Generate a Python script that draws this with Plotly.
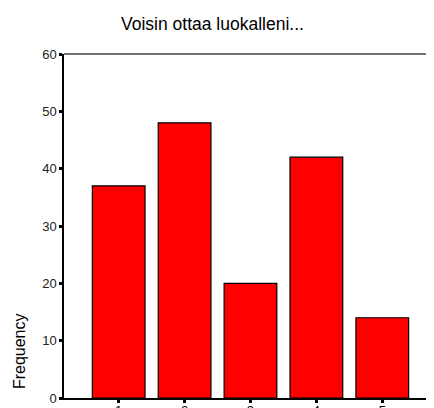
import plotly.graph_objects as go

categories = [1, 2, 3, 4, 5]
frequency = [37, 48, 20, 42, 14]
y_ticks = [0, 10, 20, 30, 40, 50, 60]
title_text = "Voisin ottaa luokalleni..."
y_label = "Frequency"

# page body has an 8px default margin; figure is sized/positioned to compensate
OFF = 8
W, H = 434 - OFF, 408 - OFF
L, T, B = 64 - OFF, 54 - OFF, 10
PW = W - L

fig = go.Figure()
fig.add_trace(go.Bar(
    x=categories, y=frequency, width=0.8,
    marker=dict(color="#ff0000", line=dict(color="black", width=1.2)),
))

fig.update_layout(
    width=W, height=H,
    margin=dict(l=L, r=0, t=T, b=B, autoexpand=False),
    paper_bgcolor="white", plot_bgcolor="white",
    showlegend=False,
    font=dict(family="Liberation Sans, Arial, sans-serif", color="black"),
    title=dict(text=title_text, x=(121 - OFF) / W, xanchor="left", xref="container",
               y=1 - (24 - OFF) / H, yanchor="middle", yref="container",
               font=dict(size=17.5, color="black")),
    xaxis=dict(range=[0.17, 5.785], tickvals=categories, ticktext=[str(c) for c in categories],
               showgrid=False, zeroline=False, showline=True, linecolor="black", linewidth=1.5,
               ticks="outside", ticklen=3, tickwidth=2.5, tickcolor="black",
               tickfont=dict(size=13), automargin=False, ticklabelstandoff=-3),
    yaxis=dict(range=[0, 60], tickvals=y_ticks, showgrid=False, zeroline=False,
               showline=True, linecolor="black", linewidth=1.5,
               ticks="outside", ticklen=3, tickwidth=2.5, tickcolor="black",
               tickfont=dict(size=13, color="#222222"), mirror=False, automargin=False),
    shapes=[dict(type="line", xref="paper", yref="paper", x0=0, x1=1, y0=1, y1=1,
                 line=dict(color="#444444", width=1.5))],
    annotations=[dict(text=y_label, xref="paper", yref="paper", x=-(64 - 19) / PW, y=0.02,
                      xanchor="center", yanchor="bottom", textangle=-90, showarrow=False,
                      font=dict(size=16, color="black"))],
)

fig.write_html("out.html")
